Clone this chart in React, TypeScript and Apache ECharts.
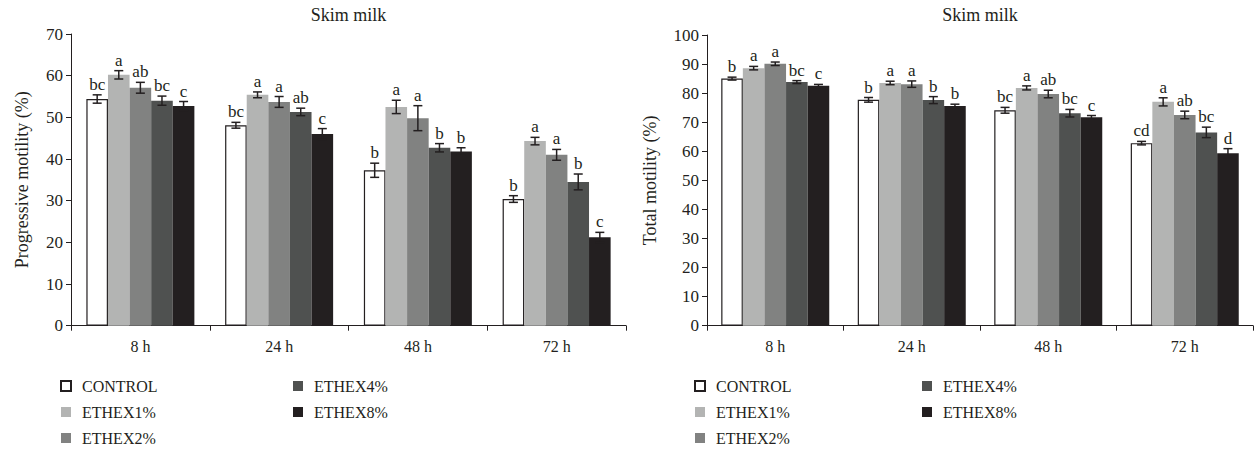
import React, { useEffect, useRef } from "react";
import * as echarts from "echarts";

const categories = ["8 h", "24 h", "48 h", "72 h"];
const groups = ["CONTROL", "ETHEX1%", "ETHEX2%", "ETHEX4%", "ETHEX8%"];
const colors = ["#ffffff", "#b3b4b3", "#818281", "#4f5150", "#231f20"];

// Progressive motility (%)
const progMeans = [
  [54.4, 48.1, 37.3, 30.4],
  [60.2, 55.4, 52.5, 44.3],
  [57.1, 53.7, 49.8, 41.0],
  [54.0, 51.3, 42.7, 34.5],
  [52.7, 46.0, 41.8, 21.2],
];
const progErrs = [
  [1.0, 0.7, 1.7, 0.8],
  [1.0, 0.7, 1.6, 0.9],
  [1.3, 1.3, 3.0, 1.3],
  [1.1, 0.9, 1.0, 1.9],
  [1.1, 1.3, 0.9, 1.2],
];
const progLetters = [
  ["bc", "bc", "b", "b"],
  ["a", "a", "a", "a"],
  ["ab", "a", "a", "a"],
  ["bc", "ab", "b", "b"],
  ["c", "c", "b", "c"],
];

// Total motility (%)
const totMeans = [
  [85.0, 77.7, 74.1, 62.8],
  [88.6, 83.5, 81.8, 77.0],
  [90.1, 83.1, 79.7, 72.5],
  [83.8, 77.6, 73.1, 66.5],
  [82.5, 75.6, 71.7, 59.3],
];
const totErrs = [
  [0.5, 0.8, 1.0, 0.6],
  [0.6, 0.6, 0.7, 1.4],
  [0.6, 1.1, 1.3, 1.3],
  [0.5, 1.2, 1.3, 1.8],
  [0.5, 0.6, 0.6, 1.6],
];
const totLetters = [
  ["b", "b", "bc", "cd"],
  ["a", "a", "a", "a"],
  ["a", "a", "ab", "ab"],
  ["bc", "b", "bc", "bc"],
  ["c", "b", "c", "d"],
];

const FONT = "'Liberation Serif', 'Times New Roman', serif";
const INK = "#231f20";
const BAR_W = 21.6;

function buildSeries(gridIdx: number, means: number[][], errs: number[][], letters: string[][]) {
  const out: any[] = [];
  groups.forEach((g, si) => {
    out.push({
      type: "bar",
      name: g,
      xAxisIndex: gridIdx,
      yAxisIndex: gridIdx,
      data: means[si],
      barWidth: BAR_W,
      barGap: "0%",
      itemStyle: si === 0
        ? { color: colors[si], borderColor: INK, borderWidth: 1.2 }
        : { color: colors[si] },
    });
  });
  const errData: any[] = [];
  const letterList: string[] = [];
  groups.forEach((_, si) => {
    categories.forEach((_, ci) => {
      errData.push([ci, si, means[si][ci], errs[si][ci]]);
      letterList.push(letters[si][ci]);
    });
  });
  out.push({
    type: "custom",
    xAxisIndex: gridIdx,
    yAxisIndex: gridIdx,
    data: errData,
    encode: { x: 0, y: 2 },
    z: 10,
    silent: true,
    renderItem: (params: any, api: any) => {
      const ci = api.value(0);
      const si = api.value(1);
      const m = api.value(2);
      const e = api.value(3);
      const c = api.coord([ci, m]);
      const x = c[0] + (si - 2) * BAR_W;
      const yt = api.coord([ci, m + e])[1];
      const yb = api.coord([ci, m - e])[1];
      const cap = 4.5;
      const st = { stroke: INK, lineWidth: 1.5 };
      return {
        type: "group",
        children: [
          { type: "line", shape: { x1: x, y1: yt, x2: x, y2: yb }, style: st },
          { type: "line", shape: { x1: x - cap, y1: yt, x2: x + cap, y2: yt }, style: st },
          { type: "line", shape: { x1: x - cap, y1: yb, x2: x + cap, y2: yb }, style: st },
          {
            type: "text",
            x: x,
            y: yt - 2,
            style: {
              text: letterList[params.dataIndex],
              align: "center",
              verticalAlign: "bottom",
              fill: INK,
              font: `17px ${FONT}`,
            },
          },
        ],
      };
    },
  });
  return out;
}

function yAxis(gridIdx: number, max: number, name: string, gap: number) {
  return {
    type: "value",
    gridIndex: gridIdx,
    min: 0,
    max,
    interval: 10,
    name,
    nameLocation: "middle",
    nameGap: gap,
    nameTextStyle: { fontFamily: FONT, fontSize: 18, color: INK },
    axisLine: { show: true, lineStyle: { color: INK, width: 1 } },
    axisTick: { show: true, length: 5, lineStyle: { color: INK } },
    axisLabel: { fontFamily: FONT, fontSize: 17, color: INK, margin: 8 },
    splitLine: { show: false },
  };
}

function xAxis(gridIdx: number) {
  return {
    type: "category",
    gridIndex: gridIdx,
    data: categories,
    axisLine: { show: true, lineStyle: { color: INK, width: 1 } },
    axisTick: { show: true, length: 5, lineStyle: { color: INK } },
    axisLabel: { fontFamily: FONT, fontSize: 16, color: INK, margin: 13 },
  };
}

function legend(left: number, data: string[]) {
  return {
    orient: "vertical",
    left,
    top: 378,
    padding: 0,
    data,
    icon: "rect",
    itemWidth: 10,
    itemHeight: 10,
    itemGap: 10,
    selectedMode: false,
    textStyle: { fontFamily: FONT, fontSize: 16, color: INK, padding: [0, 0, 0, 6] },
  };
}

export default function App() {
  const ref = useRef<HTMLDivElement>(null);
  useEffect(() => {
    if (!ref.current) return;
    const chart = echarts.init(ref.current, undefined, { renderer: "svg" });
    chart.setOption({
      animation: false,
      backgroundColor: "#ffffff",
      textStyle: { fontFamily: FONT },
      grid: [
        { left: 71, top: 34, width: 555, height: 291.7 },
        { left: 707, top: 35, width: 546, height: 290.7 },
      ],
      xAxis: [xAxis(0), xAxis(1)],
      yAxis: [
        yAxis(0, 70, "Progressive motility (%)", 40),
        yAxis(1, 100, "Total motility (%)", 48),
      ],
      legend: [
        legend(60, ["CONTROL", "ETHEX1%", "ETHEX2%"]),
        legend(293, ["ETHEX4%", "ETHEX8%"]),
        legend(694, ["CONTROL", "ETHEX1%", "ETHEX2%"]),
        legend(922, ["ETHEX4%", "ETHEX8%"]),
      ],
      graphic: [
        {
          type: "text",
          x: 348.5,
          y: 15,
          style: { text: "Skim milk", align: "center", verticalAlign: "middle", fill: INK, font: `18px ${FONT}` },
        },
        {
          type: "text",
          x: 980,
          y: 15,
          style: { text: "Skim milk", align: "center", verticalAlign: "middle", fill: INK, font: `18px ${FONT}` },
        },
      ],
      series: [
        ...buildSeries(0, progMeans, progErrs, progLetters),
        ...buildSeries(1, totMeans, totErrs, totLetters),
      ],
    });
    return () => chart.dispose();
  }, []);
  return (
    <div
      ref={ref}
      style={{ position: "absolute", left: 0, top: 0, width: 1256, height: 449, background: "#fff" }}
    />
  );
}
